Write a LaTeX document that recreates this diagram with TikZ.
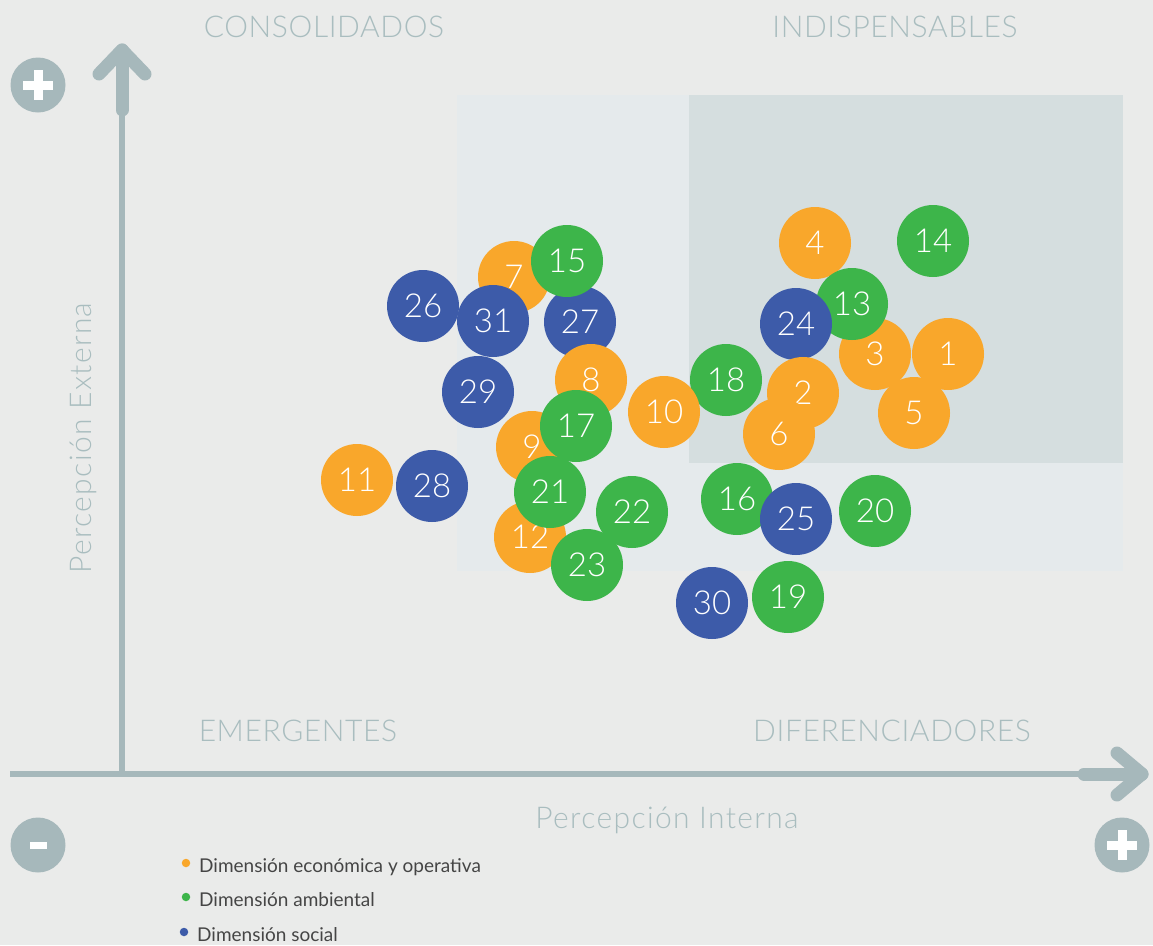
\documentclass[tikz,border=0pt]{standalone}
\usepackage{fontspec}
\setmainfont{Lato}
\newfontfamily\lightfont{Lato Light}
\usepackage{tikz}

\definecolor{bgcol}{HTML}{EAEBEA}
\definecolor{zonecol}{HTML}{E5EAEC}
\definecolor{topcol}{HTML}{D5DEDF}
\definecolor{axiscol}{HTML}{A6B8BB}
\definecolor{labelcol}{HTML}{A9BDBF}
\definecolor{ecocol}{HTML}{F9A72B}
\definecolor{ambcol}{HTML}{3DB54A}
\definecolor{soccol}{HTML}{3D5BA9}
\definecolor{legcol}{HTML}{454545}

\begin{document}
\begin{tikzpicture}[x=1pt, y=-1pt,
		main/.style = {circle, minimum size=72pt, inner sep=0pt, text=white, font=\lightfont\fontsize{33}{33}\selectfont},
		eco/.style = {main, fill=ecocol},
		amb/.style = {main, fill=ambcol},
		soc/.style = {main, fill=soccol},
		quad/.style = {anchor=base, text=labelcol, inner sep=0pt, font=\lightfont\fontsize{30}{30}\selectfont\addfontfeature{LetterSpace=2}},
		axlabel/.style = {quad, font=\lightfont\fontsize{30}{30}\selectfont\addfontfeature{LetterSpace=4.5}},
		sign/.style = {circle, fill=axiscol, minimum size=55pt, inner sep=0pt},
		dot/.style = {circle, inner sep=0pt, minimum size=8.5pt},
		leg/.style = {anchor=base west, text=legcol, inner sep=0pt, font=\fontsize{19}{19}\selectfont}]
				\fill[bgcol] (0,0) rectangle (1153,945);
				\useasboundingbox (0,0) rectangle (1153,945);
				\fill[zonecol] (457,95) rectangle (1123,571);
				\fill[topcol] (689,95) rectangle (1123,463);
				
				% ejes
				\coordinate (xs) at (10,774);
				\coordinate (xm) at (1084,774);
				\coordinate (xe) at (1142,774);
				\coordinate (xa) at (1117,753);
				\coordinate (xb) at (1117,795);
				\coordinate (o) at (122,774);
				\coordinate (ym) at (122,110);
				\coordinate (ye) at (122,50);
				\coordinate (ya) at (99,74);
				\coordinate (yb) at (145,74);
				\draw[axiscol, line width=5.5pt] (xs) -- (xm);
				\draw[axiscol, line width=5.5pt] (o) -- (ym);
				\draw[axiscol, line width=13pt, line cap=round, line join=round] (xm) -- (xe);
				\draw[axiscol, line width=13pt, line cap=round, line join=round] (xa) -- (xe) -- (xb);
				\draw[axiscol, line width=13pt, line cap=round, line join=round] (ym) -- (ye);
				\draw[axiscol, line width=13pt, line cap=round, line join=round] (ya) -- (ye) -- (yb);
				
				\node[sign] (pluy) at (38,85) {};
				\fill[white] (23,80.5) rectangle (53,89.5);
				\fill[white] (33.5,70) rectangle (42.5,100);
				\node[sign] (minus) at (38,845) {};
				\fill[white] (29.5,841.5) rectangle (46.5,848.5);
				\node[sign] (plux) at (1122,845) {};
				\fill[white] (1107,840.5) rectangle (1137,849.5);
				\fill[white] (1117.5,830) rectangle (1126.5,860);
				
				\node[quad] (cons) at (324,37.5) {CONSOLIDADOS};
				\node[quad] (indi) at (895,37.5) {INDISPENSABLES};
				\node[quad] (emer) at (298,741.5) {EMERGENTES};
				\node[quad] (dife) at (892,741.5) {DIFERENCIADORES};
				\node[axlabel] (pint) at (667,828) {Percepción Interna};
				\node[axlabel, rotate=90] (pext) at (91,438) {Percepción Externa};
				
				\node[eco] (4) at (815,243) {4};
				\node[amb] (14) at (933,241) {14};
				\node[eco] (3) at (875,354) {3};
				\node[eco] (1) at (948,354) {1};
				\node[eco] (5) at (914,413) {5};
				\node[amb] (13) at (852,304) {13};
				\node[soc] (24) at (796,324) {24};
				\node[amb] (18) at (726,380) {18};
				\node[eco] (2) at (803,393) {2};
				\node[eco] (6) at (779,434) {6};
				\node[eco] (10) at (664,412) {10};
				\node[eco] (7) at (514,277) {7};
				\node[soc] (27) at (580,322) {27};
				\node[amb] (15) at (567,261) {15};
				\node[soc] (31) at (493,321) {31};
				\node[soc] (26) at (423,306) {26};
				\node[soc] (29) at (478,392) {29};
				\node[eco] (8) at (591,380) {8};
				\node[eco] (9) at (532,447) {9};
				\node[amb] (17) at (576,426) {17};
				\node[eco] (12) at (530,537) {12};
				\node[amb] (21) at (550,492) {21};
				\node[amb] (22) at (632,512) {22};
				\node[amb] (23) at (587,565) {23};
				\node[eco] (11) at (357,480) {11};
				\node[soc] (28) at (432,486) {28};
				\node[amb] (16) at (737,499) {16};
				\node[soc] (25) at (796,519) {25};
				\node[amb] (20) at (875,511) {20};
				\node[soc] (30) at (712,603) {30};
				\node[amb] (19) at (788,597) {19};
				
				\node[dot, fill=ecocol] (d1) at (186,863) {};
				\node[dot, fill=ambcol] (d2) at (186,897) {};
				\node[dot, fill=soccol] (d3) at (184,932) {};
				\node[leg] (l1) at (199,872) {Dimensión económica y operativa};
				\node[leg] (l2) at (199,906.5) {Dimensión ambiental};
				\node[leg] (l3) at (197,941) {Dimensión social};
			\end{tikzpicture}
\end{document}
